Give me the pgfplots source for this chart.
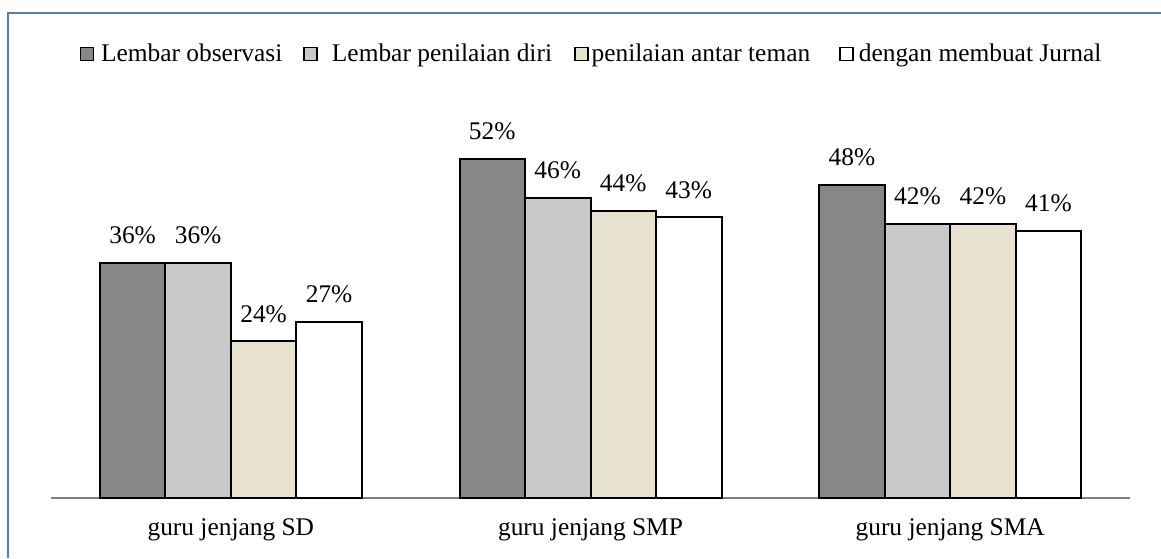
\documentclass[border=0pt]{standalone}
\usepackage{pgfplots}
\pgfplotsset{compat=1.18}
\usepackage{fontspec}
\setmainfont{Liberation Serif}
\definecolor{frameblue}{RGB}{79,129,189}
\definecolor{cA}{RGB}{135,135,135}
\definecolor{cB}{RGB}{201,201,201}
\definecolor{cC}{RGB}{230,226,205}
\definecolor{cD}{RGB}{255,255,255}
\pgfplotsset{sqleg/.style={legend image code/.code={\draw[##1, line width=0.8pt] (0pt,-3.25pt) rectangle (6.5pt,3.25pt);}}}
\begin{document}
\fontsize{12.7pt}{15pt}\selectfont
\begin{tikzpicture}
\useasboundingbox (0,0) rectangle (580.5pt,279pt);
\fill[white] (0,0) rectangle (580.5pt,279pt);
\draw[frameblue, line width=1pt] (4pt,0) -- (4pt,272.5pt) -- (581pt,272.5pt);
\begin{axis}[
  at={(25.5pt,30pt)}, anchor=south west,
  scale only axis, width=539.5pt, height=214pt,
  xmin=-0.5, xmax=2.5, ymin=0, ymax=65.6,
  ybar=0pt, bar width=32.75pt,
  hide y axis,
  axis x line*=bottom,
  x axis line style={draw=gray, line width=1pt, -},
  xtick={0,1,2},
  xticklabels={guru jenjang SD, guru jenjang SMP, guru jenjang SMA},
  major tick length=0pt,
  xticklabel style={yshift=-6pt},
  /pgf/number format/assume math mode=true,
  nodes near coords={\pgfmathprintnumber\pgfplotspointmeta\%},
  every node near coord/.append style={anchor=south, inner sep=0pt, yshift=9pt, font=\fontsize{12.7pt}{15pt}\selectfont},
  legend columns=4,
  legend style={at={(0.5,1.037)}, anchor=center, draw=none, fill=none,
    inner sep=0pt, column sep=0pt, nodes={inner sep=0pt}},
]
\addplot[fill=cA, draw=black, line width=1pt, sqleg]
  coordinates {(0,36) (1,52) (2,48)};
\addlegendentry{\rule{3.5pt}{0pt}Lembar observasi\rule{10.5pt}{0pt}}
\addplot[fill=cB, draw=black, line width=1pt, sqleg]
  coordinates {(0,36) (1,46) (2,42)};
\addlegendentry{\rule{7pt}{0pt}Lembar penilaian diri\rule{11pt}{0pt}}
\addplot[fill=cC, draw=black, line width=1pt, sqleg]
  coordinates {(0,24) (1,44) (2,42)};
\addlegendentry{\rule{1.5pt}{0pt}penilaian antar teman\rule{14.5pt}{0pt}}
\addplot[fill=cD, draw=black, line width=1pt, sqleg]
  coordinates {(0,27) (1,43) (2,41)};
\addlegendentry{\rule{2.5pt}{0pt}dengan membuat Jurnal}
\end{axis}
\end{tikzpicture}
\end{document}
